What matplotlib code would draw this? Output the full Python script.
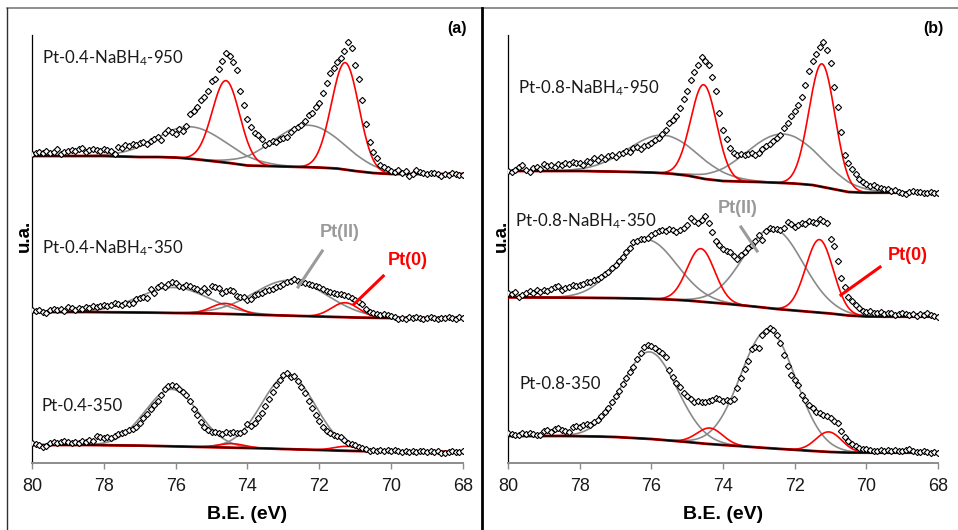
import numpy as np
import matplotlib
matplotlib.use('Agg')
import matplotlib.pyplot as plt
from matplotlib.lines import Line2D

plt.rcParams['font.family'] = 'Liberation Sans'
plt.rcParams['mathtext.fontset'] = 'custom'
plt.rcParams['mathtext.rm'] = 'Lato'
plt.rcParams['mathtext.default'] = 'rm'

######################################
# Data (intensity in arbitrary units, spectra already stacked)

# binding energy of the scans, eV
be = np.round(np.arange(80.0, 67.95, -0.1), 1)
# points of the Shirley backgrounds, eV
be_bg = np.round(np.arange(80.0, 67.95, -0.5), 1)

# --- (a) Pt-0.4 ---
a950 = [309, 310, 311, 310, 312, 310, 311, 314, 309, 311,
        312, 313, 312, 314, 315, 311, 313, 314, 313, 312,
        314, 313, 312, 309, 316, 315, 318, 317, 319, 318,
        320, 321, 319, 322, 324, 326, 323, 330, 333, 331,
        329, 334, 332, 337, 349, 352, 356, 363, 366, 372,
        382, 384, 394, 402, 410, 407, 401, 393, 372, 358,
        344, 336, 330, 328, 324, 318, 320, 322, 321, 324,
        325, 326, 331, 334, 336, 338, 342, 348, 350, 356,
        360, 370, 380, 390, 395, 401, 405, 412, 421, 415,
        398, 384, 363, 339, 321, 311, 305, 298, 296, 294,
        292, 291, 293, 290, 292, 287, 289, 293, 291, 290,
        289, 290, 290, 289, 287, 289, 288, 290, 289, 288,
        288]
a950_bg = [307, 307, 307, 307, 307, 306.5, 306, 306, 305.5, 304, 302, 300, 297.5,
           297, 296.5, 296, 295.5, 294.5, 292, 290, 289, 289, 289, 289, 289]
a950_pt0 = [(74.60, 82, 0.9), (71.28, 107, 0.9)]
a950_pt2 = [(75.54, 32, 2.3), (72.31, 42, 2.3)]

a350n = [153, 152, 153, 151, 150, 153, 154, 153, 154, 152,
         156, 155, 153, 155, 154, 156, 155, 157, 156, 157,
         158, 157, 158, 160, 159, 158, 160, 159, 160, 164,
         165, 166, 165, 174, 170, 176, 178, 176, 179, 181,
         180, 177, 176, 178, 177, 175, 174, 172, 175, 171,
         177, 176, 175, 170, 172, 173, 172, 167, 166, 166,
         163, 164, 168, 169, 170, 172, 173, 174, 176, 177,
         179, 181, 182, 184, 182, 181, 180, 179, 178, 177,
         176, 174, 172, 171, 170, 169, 169, 168, 167, 165,
         163, 161, 159, 154, 151, 150, 149, 148, 149, 148,
         147, 146, 144, 145, 144, 146, 145, 146, 145, 144,
         145, 146, 145, 144, 145, 145, 146, 145, 144, 146,
         145]
a350n_bg = [151, 151, 151, 151, 150.8, 150.7, 150.5, 150.3, 150, 149.8, 149.5, 149,
            148.5, 148, 147.5, 147, 146.5, 146, 145.5, 145.2, 145, 145, 145, 145, 145]
a350n_pt0 = [(74.62, 10.5, 0.9), (71.28, 14.5, 0.9)]
a350n_pt2 = [(76.06, 25.5, 2.3), (72.81, 35.5, 2.4)]

a350 = [20, 19, 18, 16, 17, 20, 21, 20, 21, 22,
        21, 20, 21, 20, 22, 21, 23, 22, 27, 26,
        25, 26, 25, 27, 29, 30, 31, 33, 34, 36,
        40, 45, 49, 54, 58, 62, 68, 74, 77, 78,
        77, 74, 71, 68, 62, 54, 48, 41, 36, 33,
        31, 31, 30, 29, 31, 30, 31, 30, 30, 32,
        39, 37, 40, 45, 50, 57, 64, 71, 78, 83,
        88, 90, 86, 87, 82, 76, 70, 62, 55, 48,
        42, 36, 32, 30, 28, 27, 26, 23, 20, 19,
        18, 16, 15, 14, 12, 13, 12, 13, 12, 13,
        12, 13, 12, 11, 12, 11, 12, 11, 12, 12,
        11, 12, 11, 12, 10, 10, 11, 12, 11, 11,
        12]
a350_bg = [18, 18, 18, 18, 17.8, 17.6, 17.4, 17, 16.6, 16.2, 15.8, 15.4, 15,
           14.6, 14, 13.5, 13, 12.4, 12, 11.6, 11.4, 11.3, 11.3, 11.3, 11.3]
a350_pt0 = [(74.44, 4, 0.85), (71.24, 4.5, 0.85)]
a350_pt2 = [(76.11, 57, 1.75), (72.86, 74, 1.75)]

# --- (b) Pt-0.8 ---
b950 = [292, 291, 293, 296, 298, 293, 291, 295, 296, 294,
        299, 297, 298, 296, 299, 298, 300, 299, 301, 300,
        300, 298, 302, 301, 305, 303, 306, 304, 307, 308,
        306, 309, 310, 312, 311, 315, 316, 314, 317, 318,
        320, 323, 325, 329, 333, 340, 343, 347, 355, 364,
        372, 383, 391, 398, 406, 402, 398, 386, 372, 350,
        333, 324, 315, 310, 308, 309, 308, 309, 310, 308,
        310, 314, 317, 319, 322, 325, 328, 335, 340, 347,
        352, 358, 366, 378, 392, 402, 409, 416, 421, 413,
        400, 376, 356, 331, 308, 300, 294, 289, 284, 281,
        279, 277, 278, 276, 275, 274, 274, 272, 273, 271,
        270, 269, 271, 272, 271, 271, 270, 270, 271, 270,
        270]
b950_bg = [292, 292, 292, 292, 292, 291.7, 291.4, 291, 290.5, 289.5, 287.5, 284,
           282, 281.5, 281, 280.3, 279.5, 278, 274.5, 271, 270.3, 270.3, 270.3, 270.3, 270.3]
b950_pt0 = [(74.54, 94, 0.85), (71.24, 123, 0.85)]
b950_pt2 = [(75.67, 38, 2.3), (72.32, 49, 2.4)]

b350n = [170, 169, 171, 166, 168, 170, 172, 170, 173, 171,
         173, 172, 174, 176, 177, 173, 175, 176, 178, 177,
         178, 179, 181, 181, 183, 184, 186, 189, 191, 195,
         198, 202, 206, 211, 215, 221, 222, 224, 224, 225,
         228, 230, 232, 233, 232, 234, 233, 231, 233, 235,
         238, 245, 242, 240, 243, 247, 240, 231, 222, 218,
         214, 212, 211, 207, 204, 208, 211, 215, 218, 222,
         228, 223, 232, 235, 234, 234, 233, 235, 241, 239,
         236, 238, 240, 239, 242, 241, 240, 244, 242, 240,
         224, 217, 202, 185, 176, 166, 162, 158, 155, 152,
         151, 152, 150, 150, 151, 149, 150, 150, 148, 149,
         150, 149, 148, 149, 147, 149, 148, 150, 148, 147,
         146]
b350n_bg = [165.7, 165.6, 165.5, 165.4, 165.3, 165.1, 164.9, 164.6, 164.2, 163.5, 162.5,
            161, 159.5, 157.8, 156, 154, 152.5, 151, 149.5, 147.5, 146.5, 146.3, 146.3,
            146.3, 146.3]
b350n_pt0 = [(74.62, 53, 0.9), (71.31, 73, 0.9)]
b350n_pt2 = [(76.13, 59, 1.95), (72.60, 80, 1.95)]

b350 = [30, 29, 28, 28, 30, 29, 30, 29, 28, 28,
        32, 33, 31, 34, 35, 33, 32, 31, 36, 37,
        36, 38, 39, 38, 41, 43, 47, 51, 55, 61,
        67, 72, 79, 85, 91, 96, 104, 110, 116, 118,
        117, 115, 112, 110, 106, 93, 86, 80, 76, 70,
        67, 64, 61, 62, 61, 61, 62, 63, 65, 64,
        62, 63, 62, 64, 75, 85, 94, 102, 114, 116,
        115, 128, 132, 135, 133, 128, 120, 108, 97, 88,
        83, 78, 68, 63, 58, 55, 51, 50, 48, 47,
        45, 42, 40, 32, 26, 22, 19, 17, 15, 14,
        14, 13, 12, 12, 13, 12, 13, 12, 13, 12,
        12, 13, 14, 12, 11, 11, 12, 11, 10, 11,
        10]
b350_bg = [27, 27, 27, 27, 26.8, 26.5, 26, 25, 24, 22.5, 21, 19.3, 18, 16.8, 15.5,
           14.3, 13.2, 12, 11, 10.4, 10.3, 10.3, 10.3, 10.3, 10.3]
b350_pt0 = [(74.37, 16, 0.85), (71.05, 20, 0.85)]
b350_pt2 = [(76.05, 87, 1.8), (72.74, 118, 1.8)]

######################################

RED = '#ff0000'
GREY = '#8a8a8a'
be_fine = np.linspace(80, 68, 601)


def gauss(x, c, h, w):
    return h * np.exp(-4 * np.log(2) * (x - c) ** 2 / w ** 2)


def draw_spectrum(ax, y, bg, pt0, pt2):
    bgf = np.interp(be_fine[::-1], be_bg[::-1], np.array(bg)[::-1])[::-1]
    for c, h, w in pt2:
        ax.plot(be_fine, bgf + gauss(be_fine, c, h, w), color=GREY, lw=1.2, zorder=2)
    for c, h, w in pt0:
        ax.plot(be_fine, bgf + gauss(be_fine, c, h, w), color=RED, lw=1.2, zorder=3)
    ax.plot(be_bg, bg, color='#c00000', lw=2.0, zorder=4)
    ax.plot(be_bg, bg, color='black', lw=1.0, zorder=5)
    ax.plot(be, y, ls='none', marker='D', ms=3.2, mfc='white', mec='black',
            mew=0.8, zorder=6)


fig = plt.figure(figsize=(9.58, 5.30), dpi=100)
axa = fig.add_axes([0.0334, 0.1264, 0.4499, 0.8075])
axb = fig.add_axes([0.5303, 0.1264, 0.4489, 0.8075])

draw_spectrum(axa, a950, a950_bg, a950_pt0, a950_pt2)
draw_spectrum(axa, a350n, a350n_bg, a350n_pt0, a350n_pt2)
draw_spectrum(axa, a350, a350_bg, a350_pt0, a350_pt2)

draw_spectrum(axb, b950, b950_bg, b950_pt0, b950_pt2)
draw_spectrum(axb, b350n, b350n_bg, b350n_pt0, b350n_pt2)
draw_spectrum(axb, b350, b350_bg, b350_pt0, b350_pt2)

lab = dict(fontfamily='Lato', fontsize=12.2, color='#1a1a1a', ha='left', va='center')
axa.text(0.023, 0.946, 'Pt-0.4-NaBH$_4$-950', transform=axa.transAxes, **lab)
axa.text(0.023, 0.502, 'Pt-0.4-NaBH$_4$-350', transform=axa.transAxes, **lab)
axa.text(0.023, 0.133, 'Pt-0.4-350', transform=axa.transAxes, **lab)
axb.text(0.023, 0.876, 'Pt-0.8-NaBH$_4$-950', transform=axb.transAxes, **lab)
axb.text(0.016, 0.565, 'Pt-0.8-NaBH$_4$-350', transform=axb.transAxes, **lab)
axb.text(0.026, 0.185, 'Pt-0.8-350', transform=axb.transAxes, **lab)

# Pt(II) / Pt(0) call-outs
tag = dict(fontfamily='Liberation Sans', fontweight='bold', fontsize=13, ha='center',
           va='center')
axa.text(71.42, 231, 'Pt(II)', color='#9a9a9a', **tag)
axa.plot([71.92, 72.59], [212, 176], color='#9a9a9a', lw=2.2, zorder=7)
axa.text(69.53, 203, 'Pt(0)', color=RED, **tag)
axa.plot([70.22, 71.03], [187, 159], color=RED, lw=2.2, zorder=7)
axb.text(73.58, 255, 'Pt(II)', color='#9a9a9a', **tag)
axb.plot([73.50, 73.05], [236, 212], color='#9a9a9a', lw=2.2, zorder=7)
axb.text(68.86, 208, 'Pt(0)', color=RED, **tag)
axb.plot([69.62, 70.71], [196, 168], color=RED, lw=2.2, zorder=7)

for ax in (axa, axb):
    ax.set_xlim(80, 68)
    ax.set_ylim(0, 428)
    ax.set_xticks([80, 78, 76, 74, 72, 70, 68])
    ax.set_yticks([])
    ax.spines['top'].set_visible(False)
    ax.spines['right'].set_visible(False)
    ax.spines['left'].set_color('black')
    ax.spines['left'].set_linewidth(0.9)
    ax.spines['bottom'].set_color('#8c8c8c')
    ax.spines['bottom'].set_linewidth(1.4)
    ax.tick_params(axis='x', direction='out', length=4, width=1.0, color='#8c8c8c',
                   labelsize=13, pad=7, labelcolor='#1a1a1a')
    ax.set_xlabel('B.E. (eV)', fontsize=14, fontweight='bold', labelpad=8)
    ax.patch.set_alpha(0)

fig.text(0.025, 0.555, 'u.a.', rotation=90, fontsize=13.5, fontweight='bold',
         ha='center', va='center')
fig.text(0.523, 0.555, 'u.a.', rotation=90, fontsize=13.5, fontweight='bold',
         ha='center', va='center')
fig.text(0.477, 0.947, '(a)', fontfamily='Liberation Sans', fontweight='bold',
         fontsize=11.5, ha='center', va='center')
fig.text(0.9744, 0.947, '(b)', fontfamily='Liberation Sans', fontweight='bold',
         fontsize=11.5, ha='center', va='center')

# panel frames
fig.add_artist(Line2D([0.0073, 1.0], [0.985, 0.985], color='#707070', lw=1.1))
fig.add_artist(Line2D([0.0073, 0.0073], [0.0, 0.985], color='#303030', lw=1.0))
fig.add_artist(Line2D([0.5031, 0.5031], [0.0, 0.985], color='black', lw=2.0))

fig.savefig('out.png', dpi=100)
